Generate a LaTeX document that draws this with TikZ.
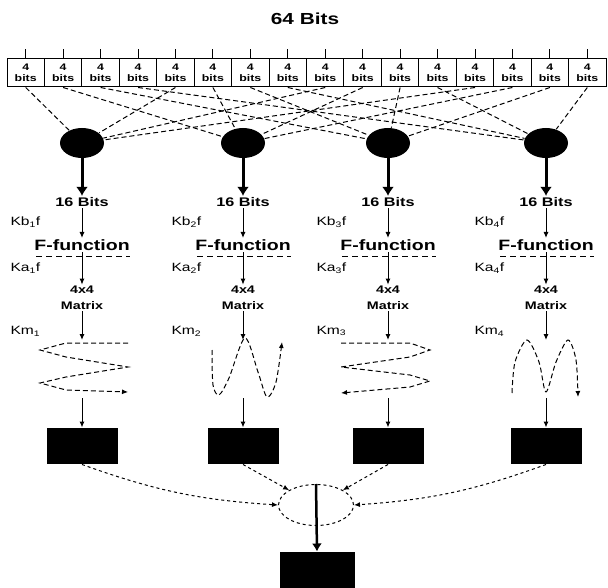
\documentclass[tikz,border=0pt]{standalone}
\usepackage{fontspec}
\setmainfont[FakeStretch=1.3]{Liberation Sans}
\usetikzlibrary{shapes.geometric,arrows.meta}

\begin{document}
\begin{tikzpicture}[x=1pt,y=-1pt,line width=1pt,
    cell/.style={draw,minimum width=37.4pt,minimum height=28pt,inner sep=0pt,align=center,
      font=\bfseries\fontsize{9.5}{11}\selectfont},
    dot/.style={ellipse,fill=black,minimum width=44pt,minimum height=30pt,inner sep=0pt},
    blk/.style={fill=black,minimum width=71pt,minimum height=36pt,inner sep=0pt},
    lbl/.style={anchor=west,inner sep=0pt,font=\fontsize{12}{14}\selectfont},
    bits/.style={inner sep=1pt,font=\bfseries\fontsize{12.5}{14}\selectfont},
    ff/.style={inner sep=1pt,font=\bfseries\fontsize{15}{17}\selectfont},
    mat/.style={inner sep=1pt,align=center,font=\bfseries\fontsize{11}{16}\selectfont},
    arr/.style={-{Latex[length=6pt,width=5pt]}},
    fat/.style={line width=3pt,-{Latex[length=9pt,width=12pt]}},
    snake/.style={dash pattern=on 5pt off 3pt,-{Latex[length=6pt,width=5pt]}}]
  \useasboundingbox (0,0) rectangle (608,588);
  \node[font=\bfseries\fontsize{16}{18}\selectfont] (title) at (305,19) {64 Bits};
  % sixteen nibbles
  \foreach \j in {0,...,15} {
    \node[cell] (c\j) at ({7+37.44*(\j+0.5)},73) {4\\bits};
    \draw (c\j.north) -- ++(0,-9);
  }
  % four branches
  \foreach \cx [count=\i] in {82,243,388,546} {
    \node[dot] (d\i) at (\cx,143) {};
    \node[bits] (b\i) at (\cx,202) {16 Bits};
    \node[lbl] (kb\i) at (\cx-72,222) {Kb\textsubscript{\i}f};
    \node[ff] (f\i) at (\cx,245) {F-function};
    \draw[dash pattern=on 6pt off 4pt] (\cx-46,257) -- (\cx+48,257);
    \node[lbl] (ka\i) at (\cx-72,268) {Ka\textsubscript{\i}f};
    \node[mat] (m\i) at (\cx,298) {4x4\\Matrix};
    \node[lbl] (km\i) at (\cx-72,331) {Km\textsubscript{\i}};
    \coordinate (st\i) at (\cx,340);
    \coordinate (sb\i) at (\cx,398);
    \node[blk] (r\i) at (\cx,446) {};
    \draw[fat] (d\i) -- (b\i);
    \draw[arr] (b\i) -- (f\i);
    \draw[arr] (f\i.south) -- (m\i);
    \draw[arr] (m\i) -- (st\i);
    \draw[arr] (sb\i) -- (r\i);
  }
  % nibble to branch wiring
  \foreach \j in {0,...,15} {
    \pgfmathtruncatemacro\k{mod(\j,4)+1}
    \draw[dash pattern=on 5pt off 3pt] (c\j.south) -- (d\k);
  }
  % permutation paths
  \draw[snake] (128,343) -- (66,343) -- (40,350) -- (66,357) -- (128,367)
    -- (66,377) -- (40,383) -- (66,390) -- (128,392);
  \draw[snake] plot[smooth] coordinates {(212,350) (213,385) (219,395) (229,378)
    (245,338) (258,372) (267,397) (276,382) (282,342)};
  \draw[snake] (341,343) -- (410,343) -- (430,350) -- (410,357) -- (341,367)
    -- (410,375) -- (430,381) -- (410,387) -- (341,393);
  \draw[snake] plot[smooth] coordinates {(512,393) (515,362) (527,340) (539,362)
    (546,392) (556,362) (568,340) (576,360) (578,397)};
  % combining
  \node[draw,dashed,ellipse,minimum width=75pt,minimum height=41pt] (x) at (316,505) {};
  \node[blk,minimum width=75pt,minimum height=40pt] (out) at (317,572) {};
  \draw[dashed,arr] (r1.south) to[bend right=8] (x.west);
  \draw[dashed,arr] (r2.south) -- (x.north west);
  \draw[dashed,arr] (r3.south) -- (x.north east);
  \draw[dashed,arr] (r4.south) to[bend left=8] (x.east);
  \draw[line width=2.5pt,-{Latex[length=8pt,width=10pt]}] (x.north) -- (out.north);
\end{tikzpicture}
\end{document}
